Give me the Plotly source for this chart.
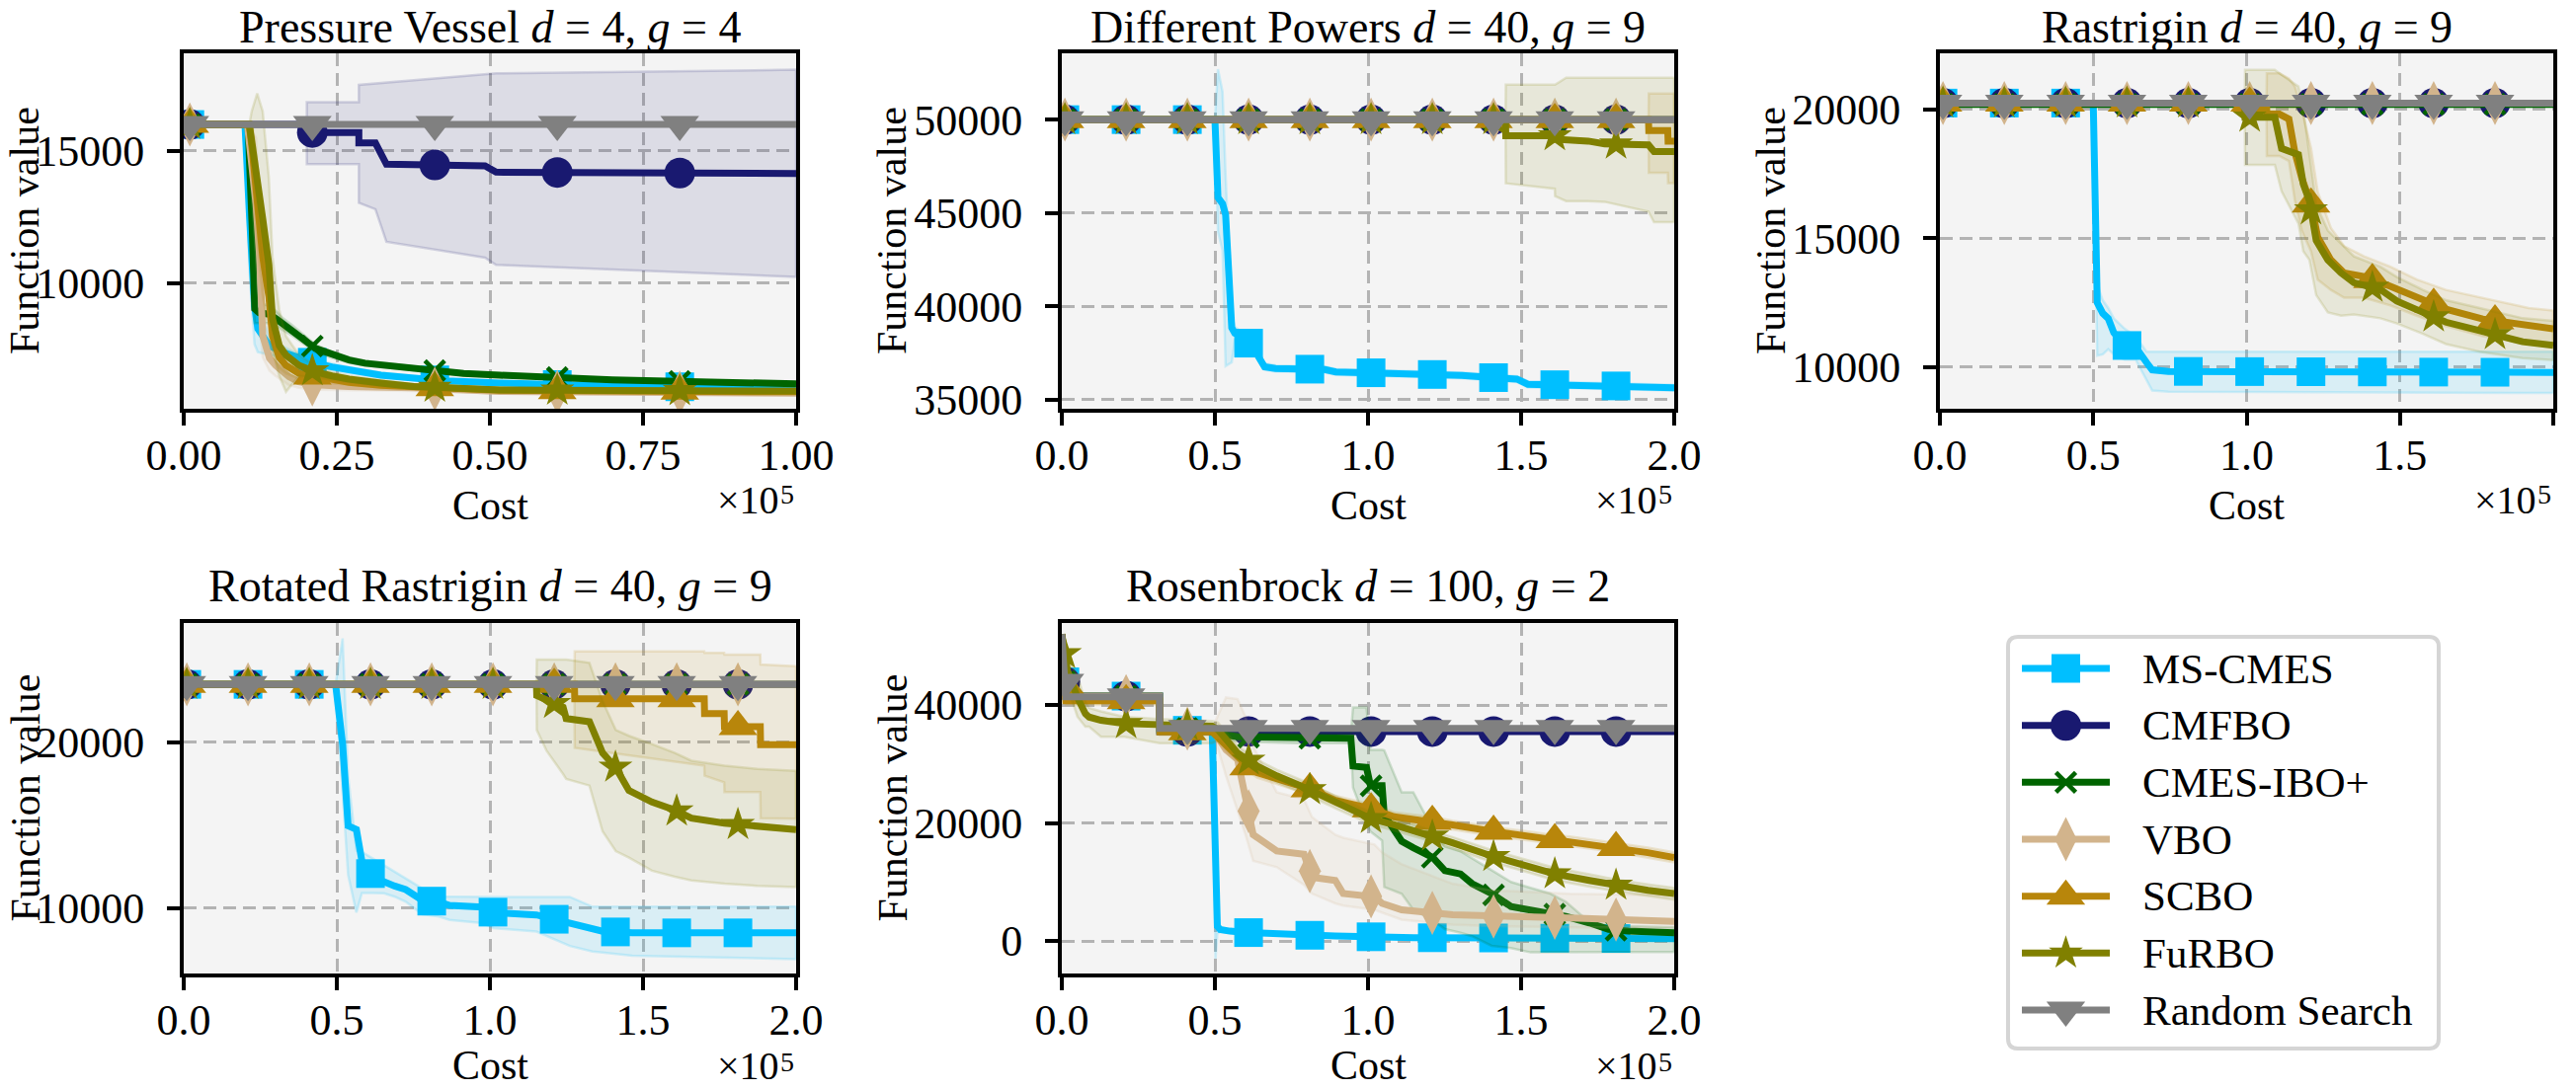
import numpy as np
import plotly.graph_objects as go

W, H = 2608, 1104

# ---------------- methods ----------------
METHODS = ["MS-CMES", "CMFBO", "CMES-IBO+", "VBO", "SCBO", "FuRBO", "Random Search"]
COLORS = ["#00BFFF", "#191970", "#006400", "#D2B48C", "#B8860B", "#808000", "#808080"]
SYMBOLS = ["square", "circle", "x-thin", "diamond-tall", "triangle-up", "star", "triangle-down"]
SIZES = [29, 31, 20, 32, 34, 26, 34]

# ---------------- panel 1: Pressure Vessel ----------------
pv_ms_x = [0, 10000, 10750, 11560, 12100, 14000, 16100, 18800, 21500, 24200, 27000, 32200, 37600, 43000, 51600, 70000, 100000]
pv_ms_y = [16000, 16000, 12500, 9140, 8280, 7650, 7400, 7170, 6980, 6840, 6720, 6530, 6420, 6310, 6230, 6120, 6040]
pv_ms_lo = [16000, 16000, 10500, 7700, 7400, 7300, 7200, 7020, 6850, 6720, 6610, 6440, 6340, 6240, 6160, 6060, 5990]
pv_ms_hi = [16000, 16000, 14500, 10500, 9100, 8000, 7620, 7320, 7110, 6960, 6830, 6620, 6500, 6380, 6300, 6180, 6090]

pv_cmfbo_x = [0, 20100, 20100, 28600, 28600, 31300, 33100, 49200, 51000, 100000]
pv_cmfbo_y = [16000, 16000, 15700, 15700, 15300, 15300, 14500, 14440, 14200, 14150]
pv_cmfbo_lo = [16000, 16000, 14500, 14500, 13040, 12800, 11570, 10970, 10700, 10240]
pv_cmfbo_hi = [16000, 16000, 16840, 16840, 17500, 17550, 17600, 17900, 17930, 18070]

pv_ibo_x = [0, 10500, 11200, 11600, 12300, 14000, 15100, 16100, 17700, 19400, 21500, 24200, 27000, 29600, 34900, 40300, 45700, 51600, 70000, 100000]
pv_ibo_y = [16000, 16000, 12000, 9030, 8890, 8830, 8660, 8470, 8210, 7910, 7540, 7290, 7100, 6980, 6840, 6720, 6590, 6530, 6350, 6200]
pv_ibo_lo = [16000, 16000, 10000, 8500, 8500, 8500, 8400, 8250, 8020, 7750, 7400, 7180, 7000, 6890, 6760, 6650, 6520, 6470, 6290, 6140]
pv_ibo_hi = [16000, 16000, 14000, 9600, 9250, 9150, 8950, 8700, 8420, 8080, 7690, 7410, 7200, 7070, 6920, 6790, 6660, 6600, 6410, 6260]

pv_vbo_x = [0, 10400, 11800, 12400, 12900, 14000, 15000, 17200, 18800, 21500, 26900, 37600, 51600, 100000]
pv_vbo_y = [16000, 16000, 13000, 11000, 8020, 7170, 6900, 6470, 6280, 6160, 6100, 6050, 5910, 5850]
pv_vbo_lo = [16000, 16000, 11000, 8500, 7200, 6700, 6500, 6150, 6050, 5980, 5960, 5930, 5840, 5790]
pv_vbo_hi = [16000, 16000, 15500, 13000, 9000, 7700, 7300, 6800, 6500, 6340, 6240, 6170, 5990, 5910]

pv_scbo_x = [0, 10700, 11200, 12000, 12900, 13900, 14500, 15600, 16700, 18800, 21500, 24200, 27000, 32200, 37600, 43000, 51600, 70000, 100000]
pv_scbo_y = [16000, 16000, 15000, 13000, 11000, 9500, 8000, 7200, 6900, 6600, 6470, 6350, 6260, 6150, 6080, 6040, 5960, 5930, 5900]
pv_scbo_lo = [16000, 16000, 14000, 11500, 9500, 8300, 7300, 6800, 6600, 6400, 6320, 6220, 6150, 6060, 6000, 5970, 5900, 5870, 5840]
pv_scbo_hi = [16000, 16000, 16000, 14500, 12500, 10700, 8700, 7600, 7200, 6800, 6620, 6480, 6370, 6240, 6160, 6110, 6020, 5990, 5960]

pv_furbo_x = [0, 10700, 11100, 12000, 12900, 13900, 14500, 15600, 16700, 18800, 21500, 24200, 27000, 32200, 37600, 43000, 51600, 70000, 100000]
pv_furbo_y = [16000, 16000, 15370, 14040, 12440, 10710, 8660, 7650, 7280, 6900, 6650, 6500, 6380, 6230, 6100, 6050, 5970, 5950, 5930]
pv_furbo_lo = [16000, 16000, 14800, 12500, 10500, 9000, 7500, 6500, 5900, 6500, 6450, 6350, 6260, 6130, 6020, 5980, 5910, 5890, 5870]
pv_furbo_hi = [16000, 16000, 16500, 17170, 16500, 14000, 11000, 9000, 8000, 7300, 6870, 6660, 6500, 6330, 6180, 6120, 6030, 6010, 5990]

pv_rs_x = [0, 100000]
pv_rs_y = [16000, 16000]

# ---------------- panel 2: Different Powers ----------------
dp_ms_x = [0, 50000, 51000, 52500, 53500, 55500, 56500, 59100, 62700, 66200, 69800, 85900, 89500, 112800, 130700, 139700, 148600, 152200, 166500, 184400, 200000]
dp_ms_y = [50000, 50000, 45830, 45500, 44900, 38850, 38560, 38380, 37720, 36770, 36680, 36620, 36490, 36400, 36300, 36200, 36110, 35830, 35790, 35730, 35640]
dp_ms_lo = [50000, 50000, 44000, 43000, 36800, 37000, 38200, 38150, 37550, 36600, 36510, 36460, 36330, 36240, 36140, 36040, 35950, 35660, 35630, 35570, 35480]
dp_ms_hi = [50000, 50000, 52700, 51500, 47000, 39500, 38900, 38600, 37900, 36950, 36850, 36780, 36650, 36560, 36460, 36360, 36270, 36000, 35950, 35890, 35800]

dp_const_x = [0, 200000]
dp_const_y = [50000, 50000]

dp_scbo_x = [0, 191600, 191700, 197900, 198000, 200000]
dp_scbo_y = [50000, 50000, 49420, 49420, 48850, 48850]
dp_scbo_lo = [50000, 50000, 47150, 47150, 46600, 46600]
dp_scbo_hi = [50000, 50000, 51400, 51400, 51400, 51400]

dp_furbo_x = [0, 144900, 145000, 161000, 161100, 164700, 171900, 177300, 191600, 193400, 200000]
dp_furbo_y = [50000, 50000, 49130, 49130, 48950, 48940, 48850, 48700, 48650, 48290, 48290]
dp_furbo_lo = [50000, 50000, 46590, 46300, 45900, 45640, 45640, 45600, 45080, 44510, 44510]
dp_furbo_hi = [50000, 50000, 51870, 51870, 51870, 52240, 52240, 52240, 52240, 52240, 52240]

# ---------------- panel 3: Rastrigin ----------------
ras_ms_x = [0, 50000, 51300, 53100, 54900, 56700, 60200, 63800, 67400, 69200, 74500, 200000]
ras_ms_y = [20250, 20250, 12500, 12090, 11890, 11340, 10860, 10790, 10180, 9900, 9840, 9800]
ras_ms_lo = [20250, 20250, 10450, 10500, 10700, 10500, 10300, 10300, 9500, 9100, 9050, 9000]
ras_ms_hi = [20250, 20250, 13200, 12600, 12300, 11900, 11500, 11200, 10600, 10600, 10600, 10600]

ras_const_x = [0, 200000]
ras_const_y = [20250, 20250]
ras_ibo_y = [20200, 20200]

ras_scbo_x = [0, 106500, 106600, 110700, 113800, 115700, 118000, 121000, 123200, 127500, 131800, 138300, 146900, 155500, 165000, 177000, 192000, 200000]
ras_scbo_y = [20250, 20250, 19820, 19820, 19630, 18360, 17340, 16330, 15050, 14160, 13660, 13520, 13140, 12700, 12250, 11870, 11620, 11490]
ras_scbo_lo = [20250, 20250, 18200, 18200, 18000, 16500, 15300, 14500, 13400, 13000, 12700, 12700, 12400, 12000, 11600, 11200, 10950, 10850]
ras_scbo_hi = [20250, 20250, 21400, 21400, 21200, 20900, 20000, 18500, 16800, 15400, 14700, 14300, 13900, 13400, 13000, 12700, 12300, 12200]

ras_furbo_x = [0, 99400, 99500, 109200, 111400, 116900, 118500, 120500, 122700, 126500, 130800, 135000, 143600, 149000, 157500, 165000, 176000, 190000, 200000]
ras_furbo_y = [20250, 20250, 19700, 19700, 18490, 18250, 17100, 16450, 14920, 14160, 13660, 13280, 13020, 12570, 12130, 11750, 11420, 10990, 10850]
ras_furbo_lo = [20250, 20250, 17850, 17850, 16830, 15580, 14500, 14160, 12800, 12130, 12000, 12050, 11900, 11700, 11300, 10900, 10600, 10350, 10280]
ras_furbo_hi = [20250, 20250, 21540, 21540, 21350, 20900, 20000, 18200, 16300, 15300, 14800, 14300, 13900, 13500, 13000, 12600, 12300, 11900, 11800]

# ---------------- panel 4: Rotated Rastrigin ----------------
rr_ms_x = [0, 49600, 51900, 53700, 56400, 58200, 61800, 65400, 68900, 72500, 77900, 83300, 86800, 97600, 101200, 115200, 126100, 133500, 136800, 146500, 200000]
rr_ms_y = [23500, 23500, 19870, 14970, 14750, 12840, 11880, 11560, 11340, 11130, 10490, 10390, 10170, 10070, 9750, 9600, 9110, 8820, 8620, 8520, 8520]
rr_ms_lo = [23500, 23500, 17000, 12000, 9750, 10920, 10920, 10900, 10700, 10400, 9640, 9500, 9300, 9100, 8800, 8600, 7730, 7400, 7340, 7140, 6940]
rr_ms_hi = [23500, 23500, 26270, 18000, 13480, 13400, 13000, 12600, 12200, 11770, 11200, 10710, 10700, 10690, 10690, 10690, 10690, 10100, 10100, 10100, 10100]

rr_const_x = [0, 200000]
rr_const_y = [23500, 23500]

rr_scbo_x = [0, 127600, 127700, 170000, 170100, 176500, 176600, 188300, 188400, 200000]
rr_scbo_y = [23500, 23500, 22630, 22630, 21740, 21740, 20950, 20950, 19870, 19870]
rr_scbo_lo = [23500, 23500, 19670, 18600, 18000, 17600, 17000, 17000, 15430, 15400]
rr_scbo_hi = [23500, 23500, 25490, 25490, 25400, 25400, 25290, 25290, 24700, 24600]

rr_furbo_x = [0, 115200, 115300, 118500, 123900, 124900, 132500, 136800, 141100, 145400, 152900, 160400, 165800, 176600, 187300, 200000]
rr_furbo_y = [23500, 23500, 22830, 22530, 22130, 21440, 21250, 19370, 18480, 17100, 16410, 15920, 15430, 15130, 14930, 14740]
rr_furbo_lo = [23500, 23500, 20750, 19500, 18090, 17800, 17400, 14640, 13450, 13060, 12270, 11900, 11680, 11480, 11350, 11280]
rr_furbo_hi = [23500, 23500, 25000, 25000, 25000, 25000, 24800, 22500, 20750, 20400, 19900, 19370, 18900, 18600, 18400, 18290]

# ---------------- panel 5: Rosenbrock ----------------
rb_ms_x = [0, 1300, 31900, 32000, 49100, 50200, 50800, 51700, 54900, 61300, 71500, 89300, 115000, 153000, 200000]
rb_ms_y = [52000, 41500, 41500, 35700, 35700, 4160, 2490, 1940, 1660, 1400, 1110, 830, 554, 480, 390]
rb_ms_lo = [52000, 41500, 41500, 35700, 35700, -3000, 1200, 1600, 1400, 1150, 920, 660, 400, 340, 250]
rb_ms_hi = [52000, 41500, 41500, 35700, 35700, 9000, 3200, 2300, 1950, 1650, 1300, 1000, 700, 620, 530]

rb_cmfbo_x = [0, 1300, 31900, 32000, 200000]
rb_cmfbo_y = [52000, 41500, 41500, 35500, 35500]

rb_ibo_x = [0, 1300, 31900, 32000, 49100, 53600, 57400, 76600, 94400, 95100, 99500, 100800, 104600, 105300, 111000, 114800, 121200, 125100, 130200, 134000, 140400, 146700, 153100, 159500, 164600, 172300, 178600, 185000, 200000]
rb_ibo_y = [52000, 41500, 41500, 36000, 36000, 34900, 34600, 34350, 34350, 29640, 29400, 26300, 26300, 21330, 16900, 15790, 14130, 11900, 11360, 9700, 8030, 5820, 5260, 4710, 4155, 3050, 1940, 1660, 1385]
rb_ibo_lo = [52000, 41500, 41500, 36000, 36000, 34200, 33800, 33500, 33500, 26000, 20000, 18560, 17000, 9140, 8000, 5260, 3500, 2000, 1385, 800, -830, -1200, -1940, -1940, -1940, -1940, -1900, -1900, -1900]
rb_ibo_hi = [52000, 41500, 41500, 36000, 36000, 35600, 35400, 35200, 35200, 39600, 39600, 32400, 32400, 32300, 25200, 25200, 19000, 16000, 15200, 14000, 12000, 10000, 9000, 8030, 6650, 3200, 2800, 2500, 2300]

rb_vbo_x = [0, 1300, 31900, 32000, 49100, 53600, 57400, 60000, 62500, 70200, 79100, 81700, 89300, 91900, 102100, 104600, 111000, 127600, 140400, 165900, 200000]
rb_vbo_y = [52000, 41500, 41500, 36000, 36000, 32400, 30750, 24650, 18000, 15240, 14680, 10800, 10250, 8030, 7480, 6370, 5260, 4430, 4155, 3880, 3320]
rb_vbo_lo = [52000, 41500, 41500, 36000, 36000, 28000, 22000, 18000, 13570, 12500, 9500, 8030, 6370, 6000, 5260, 4800, 3600, 2770, 2500, 2300, 2220]
rb_vbo_hi = [52000, 41500, 41500, 36000, 36000, 41270, 41000, 38000, 33000, 25200, 24000, 21000, 18000, 17500, 16340, 15000, 13000, 9700, 8590, 8000, 7760]

rb_scbo_x = [0, 1300, 31900, 32000, 49100, 54000, 61000, 63800, 76600, 81000, 89300, 100800, 108500, 121200, 127600, 141000, 153100, 161000, 165900, 181200, 191400, 200000]
rb_scbo_y = [52000, 40720, 40720, 35460, 35460, 33000, 29500, 28530, 26300, 25760, 23820, 22440, 21050, 20220, 19670, 18560, 17730, 17170, 16900, 15790, 14960, 14130]
rb_scbo_lo = [52000, 40000, 40000, 34900, 34900, 32000, 28700, 27700, 25500, 25000, 23000, 21700, 20300, 19400, 18900, 17800, 17000, 16400, 16100, 15000, 14100, 13300]
rb_scbo_hi = [52000, 41500, 41500, 36000, 36000, 34000, 30300, 29300, 27100, 26500, 24600, 23200, 21800, 21000, 20400, 19300, 18500, 17900, 17700, 16600, 15800, 15000]

rb_furbo_x = [0, 1900, 5100, 7700, 8900, 12800, 20400, 31900, 49100, 51000, 57400, 63800, 70200, 80400, 89300, 100800, 108500, 121200, 127600, 140400, 153100, 161000, 172300, 181200, 191400, 200000]
rb_furbo_y = [52000, 45700, 41270, 38500, 37950, 37400, 36840, 36560, 36400, 35800, 31850, 29640, 27980, 25760, 23550, 20780, 19670, 17730, 16620, 14400, 12470, 11360, 10250, 9420, 8590, 8030]
rb_furbo_lo = [52000, 43000, 38000, 36300, 36300, 34600, 34600, 33500, 33500, 34000, 30700, 28600, 26900, 24700, 22500, 19800, 18700, 16800, 15700, 13400, 11500, 10300, 9200, 8400, 7600, 7000]
rb_furbo_hi = [52000, 48000, 45000, 40500, 39500, 38900, 38000, 37600, 37300, 37000, 33000, 30700, 29000, 26800, 24600, 21800, 20700, 18700, 17600, 15400, 13500, 12400, 11300, 10400, 9600, 9000]

rb_rs_x = [0, 1300, 31900, 32000, 200000]
rb_rs_y = [52000, 41380, 41380, 36010, 36010]

# ---------------- panel settings ----------------
TITLES = ["Pressure Vessel <i>d</i> = 4, <i>g</i> = 4",
          "Different Powers <i>d</i> = 40, <i>g</i> = 9",
          "Rastrigin <i>d</i> = 40, <i>g</i> = 9",
          "Rotated Rastrigin <i>d</i> = 40, <i>g</i> = 9",
          "Rosenbrock <i>d</i> = 100, <i>g</i> = 2"]
X_MAX = [100000, 200000, 200000, 200000, 200000]
X_TICKS = [[0, 25000, 50000, 75000, 100000]] + [[0, 50000, 100000, 150000, 200000]] * 4
X_DEC = [2, 1, 1, 1, 1]
Y_RANGES = [(5260, 18690), (34520, 53550), (8390, 22180), (6070, 27200), (-5520, 53890)]
Y_TICKS = [[10000, 15000], [35000, 40000, 45000, 50000], [10000, 15000, 20000], [10000, 20000], [0, 20000, 40000]]
MARK_START, MARK_STEP = 1000, 20000

SERIES = [
    [(pv_ms_x, pv_ms_y, pv_ms_lo, pv_ms_hi), (pv_cmfbo_x, pv_cmfbo_y, pv_cmfbo_lo, pv_cmfbo_hi),
     (pv_ibo_x, pv_ibo_y, pv_ibo_lo, pv_ibo_hi), (pv_vbo_x, pv_vbo_y, pv_vbo_lo, pv_vbo_hi),
     (pv_scbo_x, pv_scbo_y, pv_scbo_lo, pv_scbo_hi), (pv_furbo_x, pv_furbo_y, pv_furbo_lo, pv_furbo_hi),
     (pv_rs_x, pv_rs_y, None, None)],
    [(dp_ms_x, dp_ms_y, dp_ms_lo, dp_ms_hi), (dp_const_x, dp_const_y, None, None),
     (dp_const_x, dp_const_y, None, None), (dp_const_x, dp_const_y, None, None),
     (dp_scbo_x, dp_scbo_y, dp_scbo_lo, dp_scbo_hi), (dp_furbo_x, dp_furbo_y, dp_furbo_lo, dp_furbo_hi),
     (dp_const_x, dp_const_y, None, None)],
    [(ras_ms_x, ras_ms_y, ras_ms_lo, ras_ms_hi), (ras_const_x, ras_const_y, None, None),
     (ras_const_x, ras_ibo_y, None, None), (ras_const_x, ras_const_y, None, None),
     (ras_scbo_x, ras_scbo_y, ras_scbo_lo, ras_scbo_hi), (ras_furbo_x, ras_furbo_y, ras_furbo_lo, ras_furbo_hi),
     (ras_const_x, ras_const_y, None, None)],
    [(rr_ms_x, rr_ms_y, rr_ms_lo, rr_ms_hi), (rr_const_x, rr_const_y, None, None),
     (rr_const_x, rr_const_y, None, None), (rr_const_x, rr_const_y, None, None),
     (rr_scbo_x, rr_scbo_y, rr_scbo_lo, rr_scbo_hi), (rr_furbo_x, rr_furbo_y, rr_furbo_lo, rr_furbo_hi),
     (rr_const_x, rr_const_y, None, None)],
    [(rb_ms_x, rb_ms_y, rb_ms_lo, rb_ms_hi), (rb_cmfbo_x, rb_cmfbo_y, None, None),
     (rb_ibo_x, rb_ibo_y, rb_ibo_lo, rb_ibo_hi), (rb_vbo_x, rb_vbo_y, rb_vbo_lo, rb_vbo_hi),
     (rb_scbo_x, rb_scbo_y, rb_scbo_lo, rb_scbo_hi), (rb_furbo_x, rb_furbo_y, rb_furbo_lo, rb_furbo_hi),
     (rb_rs_x, rb_rs_y, None, None)],
]

# ---------------- layout geometry (pixels) ----------------
BOXES = [(186, 806, 54, 414), (1075, 1695, 54, 414), (1964, 2585, 54, 414),
         (186, 806, 631, 986), (1075, 1695, 631, 986)]
YLAB_X = [0, 903, 1793, 0, 903]
TOP_ROW = [True, True, True, False, False]
TITLE_Y = [0, 0, 0, 594, 594]
FONT = "Liberation Serif"
GRID = "#b3b3b3"
TICK_SIZE, LABEL_SIZE, TITLE_SIZE, LEG_SIZE = 44, 42, 46, 43
OFF_SIZE, OFF_SUP_SIZE = 40, 28
LEG_BOX = (2033, 2469, 645, 1062)
LEG_Y0, LEG_DY = 677, 57.67


def rgba(hexc, a):
    h = hexc.lstrip("#")
    return "rgba(%d,%d,%d,%.3f)" % (int(h[0:2], 16), int(h[2:4], 16), int(h[4:6], 16), a)


def px(x):
    return x / W


def py(y):
    return 1 - y / H


fig = go.Figure()
layout = dict(width=W, height=H, margin=dict(l=0, r=0, t=0, b=0, autoexpand=False), autosize=False,
              paper_bgcolor="white", plot_bgcolor="rgba(0,0,0,0)", showlegend=False,
              font=dict(family=FONT, size=40, color="black"))
shapes, annotations = [], []

for p in range(5):
    k = "" if p == 0 else str(p + 1)
    xa, ya = "x" + k, "y" + k
    L, R, T, B = BOXES[p]
    common = dict(showline=True, mirror=True, linecolor="black", linewidth=4,
                  ticks="outside", ticklen=13, tickwidth=3.5, tickcolor="black",
                  showgrid=True, gridcolor=GRID, gridwidth=2.5, griddash="13px,7px",
                  zeroline=False, automargin=False, tickfont=dict(family=FONT, size=TICK_SIZE))
    layout["xaxis" + k] = dict(
        domain=[px(L), px(R)], range=[0, X_MAX[p]], anchor=ya,
        tickvals=X_TICKS[p], ticktext=[f"{v / 1e5:.{X_DEC[p]}f}" for v in X_TICKS[p]],
        ticklabelstandoff=-8, **common)
    layout["yaxis" + k] = dict(
        domain=[py(B), py(T)], range=list(Y_RANGES[p]), anchor=xa,
        tickvals=Y_TICKS[p], ticktext=[str(v) for v in Y_TICKS[p]],
        ticklabelstandoff=14, **common)
    shapes.append(dict(type="rect", xref=xa + " domain", yref=ya + " domain", x0=0, x1=1, y0=0, y1=1,
                       fillcolor="#f4f4f4", line=dict(width=0), layer="below"))

    marks = np.arange(MARK_START, X_MAX[p], MARK_STEP)
    for m, (sx, sy, lo, hi) in enumerate(SERIES[p]):
        c = COLORS[m]
        if lo is not None:
            fig.add_trace(go.Scatter(x=list(sx) + list(sx)[::-1], y=list(hi) + list(lo)[::-1],
                                     mode="lines", fill="toself", fillcolor=rgba(c, 0.11),
                                     line=dict(color=rgba(c, 0.16), width=2.5),
                                     hoverinfo="skip", xaxis=xa, yaxis=ya))
        fig.add_trace(go.Scatter(x=sx, y=sy, mode="lines", line=dict(color=c, width=7),
                                 name=METHODS[m], xaxis=xa, yaxis=ya))
        my = np.interp(marks, np.array(sx, float), np.array(sy, float))
        fig.add_trace(go.Scatter(x=marks, y=my, mode="markers", name=METHODS[m],
                                 marker=dict(symbol=SYMBOLS[m], size=SIZES[m], color=c,
                                             line=dict(color=c, width=4.5 if SYMBOLS[m] == "x-thin" else 0)),
                                 xaxis=xa, yaxis=ya))

    cx = (L + R) / 2
    top = TOP_ROW[p]
    # title
    annotations.append(dict(text=TITLES[p], x=px(cx), y=py(TITLE_Y[p]), xref="paper", yref="paper",
                            xanchor="center", yanchor="top" if top else "middle",
                            showarrow=False, font=dict(size=TITLE_SIZE)))
    # x label
    annotations.append(dict(text="Cost", x=px(cx), y=py(512) if top else 0, xref="paper", yref="paper",
                            xanchor="center", yanchor="middle" if top else "bottom",
                            showarrow=False, font=dict(size=LABEL_SIZE)))
    # offset text  x10^5
    annotations.append(dict(text="×10", x=px(R - 15), y=py(531) if top else 0, xref="paper", yref="paper",
                            xanchor="right", yanchor="bottom", showarrow=False, font=dict(size=OFF_SIZE)))
    annotations.append(dict(text="5", x=px(R), y=py(518) if top else py(1093), xref="paper", yref="paper",
                            xanchor="right", yanchor="bottom", showarrow=False, font=dict(size=OFF_SUP_SIZE)))
    # y label
    annotations.append(dict(text="Function value", x=px(YLAB_X[p]) if YLAB_X[p] > 0 else 0,
                            y=py((T + B) / 2), xref="paper", yref="paper",
                            xanchor="center" if YLAB_X[p] > 0 else "left",
                            yanchor="middle", textangle=-90, showarrow=False, font=dict(size=LABEL_SIZE)))

# ---------------- custom legend ----------------
lL, lR, lT, lB = LEG_BOX
layout["xaxis6"] = dict(domain=[px(lL), px(lR)], range=[0, lR - lL], visible=False, anchor="y6",
                        fixedrange=True, automargin=False)
layout["yaxis6"] = dict(domain=[py(lB), py(lT)], anchor="x6", visible=False, fixedrange=True, automargin=False,
                        range=[(lB - LEG_Y0) / LEG_DY, (lT - LEG_Y0) / LEG_DY])
for m, name in enumerate(METHODS):
    c = COLORS[m]
    fig.add_trace(go.Scatter(x=[14, 103], y=[m, m], mode="lines", line=dict(color=c, width=7),
                             xaxis="x6", yaxis="y6", hoverinfo="skip"))
    fig.add_trace(go.Scatter(x=[58.5], y=[m], mode="markers", xaxis="x6", yaxis="y6", hoverinfo="skip",
                             marker=dict(symbol=SYMBOLS[m], size=SIZES[m], color=c,
                                         line=dict(color=c, width=4.5 if SYMBOLS[m] == "x-thin" else 0))))
    annotations.append(dict(text=name, x=134, y=m, xref="x6", yref="y6", xanchor="left",
                            yanchor="middle", showarrow=False, font=dict(size=LEG_SIZE)))

r = 10
x0, x1, y0, y1 = px(lL), px(lR), py(lT), py(lB)
rx, ry = r / W, r / H
path = (f"M{x0 + rx},{y0} L{x1 - rx},{y0} Q{x1},{y0} {x1},{y0 - ry} L{x1},{y1 + ry} "
        f"Q{x1},{y1} {x1 - rx},{y1} L{x0 + rx},{y1} Q{x0},{y1} {x0},{y1 + ry} "
        f"L{x0},{y0 - ry} Q{x0},{y0} {x0 + rx},{y0} Z")
shapes.append(dict(type="path", path=path, xref="paper", yref="paper",
                   line=dict(color="#d5d5d5", width=4), fillcolor="rgba(255,255,255,0.8)", layer="below"))

layout["shapes"] = shapes
layout["annotations"] = annotations
fig.update_layout(**layout)
fig.write_html("out.html")
